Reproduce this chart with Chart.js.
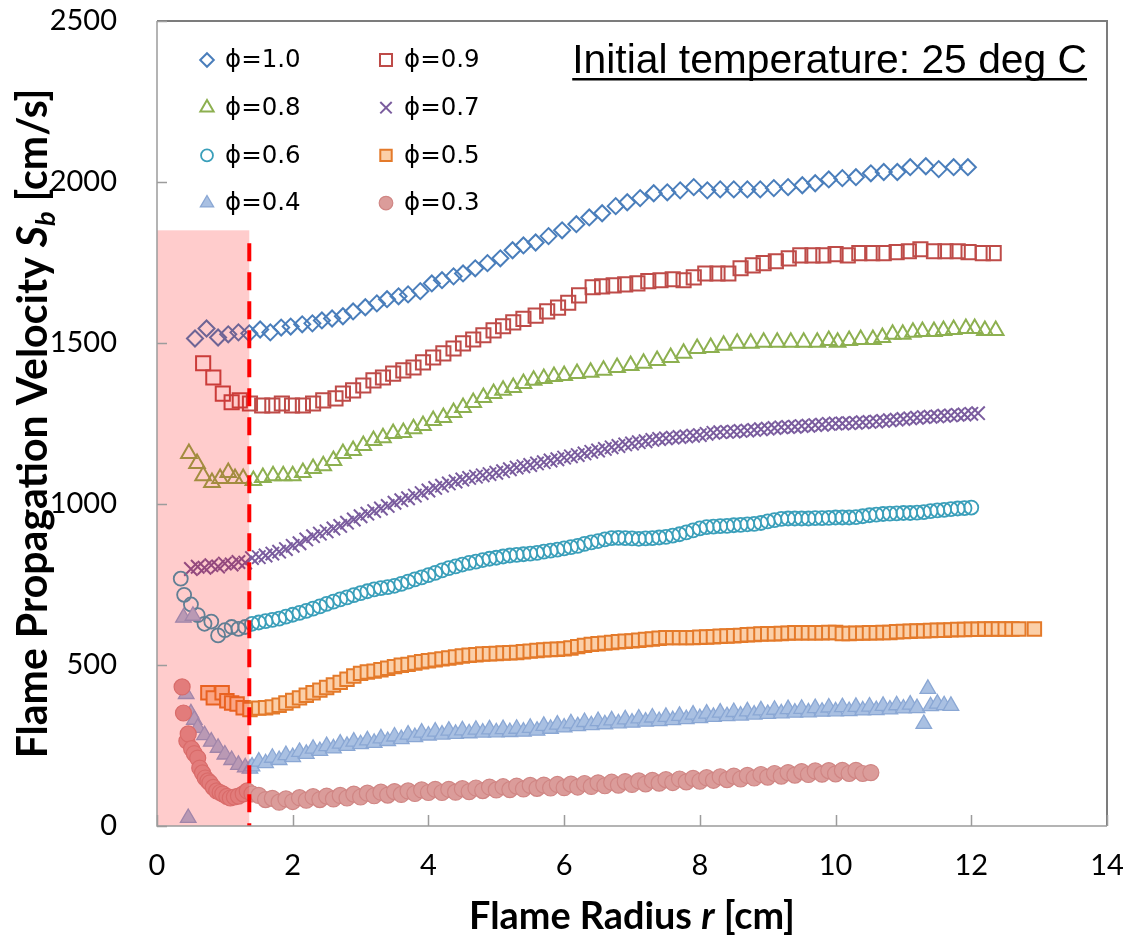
<!DOCTYPE html>
<html>
<head>
<meta charset="utf-8">
<script src="https://cdn.jsdelivr.net/npm/chart.js@4.4.1/dist/chart.umd.min.js"></script>
<style>
  html, body { margin: 0; padding: 0; background: #fff; }
  #wrap { width: 1124px; height: 936px; }
</style>
</head>
<body>
<div id="wrap"><canvas id="chart" width="1124" height="936"></canvas></div>
<script>
// ---- data: [flame radius r (cm), propagation velocity Sb (cm/s)] ----
const phiLabels = ['ϕ=1.0', 'ϕ=0.9', 'ϕ=0.8', 'ϕ=0.7', 'ϕ=0.6', 'ϕ=0.5', 'ϕ=0.4', 'ϕ=0.3'];

const phi10 = [[0.56,1514],[0.73,1545],[0.90,1517],[1.05,1527],[1.20,1533],[1.36,1530],[1.52,1542],[1.67,1533],[1.83,1548],[1.97,1551],[2.14,1558],[2.29,1561],[2.43,1570],[2.58,1576],[2.74,1583],[2.89,1598],[3.07,1611],[3.24,1623],[3.39,1636],[3.56,1645],[3.70,1651],[3.88,1661],[4.05,1685],[4.20,1695],[4.37,1707],[4.51,1716],[4.69,1732],[4.87,1748],[5.06,1763],[5.24,1788],[5.40,1803],[5.58,1812],[5.77,1832],[5.97,1850],[6.18,1869],[6.37,1890],[6.56,1903],[6.76,1925],[6.93,1937],[7.12,1950],[7.32,1965],[7.52,1968],[7.71,1974],[7.91,1984],[8.11,1974],[8.30,1977],[8.50,1977],[8.70,1977],[8.89,1977],[9.09,1981],[9.30,1984],[9.51,1990],[9.70,1996],[9.90,2008],[10.10,2012],[10.30,2015],[10.52,2027],[10.71,2031],[10.91,2031],[11.10,2046],[11.33,2049],[11.52,2040],[11.74,2046],[11.95,2046]];

const phi09 = [[0.68,1437],[0.83,1393],[0.97,1343],[1.10,1316],[1.22,1322],[1.37,1312],[1.55,1306],[1.70,1306],[1.84,1312],[1.99,1306],[2.15,1306],[2.30,1312],[2.45,1322],[2.63,1328],[2.74,1343],[2.89,1353],[3.04,1368],[3.19,1384],[3.33,1393],[3.48,1405],[3.63,1415],[3.78,1424],[3.92,1440],[4.07,1455],[4.22,1468],[4.37,1483],[4.51,1499],[4.66,1511],[4.81,1524],[4.96,1539],[5.10,1552],[5.25,1564],[5.40,1575],[5.58,1585],[5.75,1598],[5.91,1610],[6.06,1625],[6.22,1648],[6.42,1673],[6.56,1676],[6.73,1679],[6.90,1682],[7.08,1685],[7.24,1692],[7.42,1695],[7.60,1698],[7.76,1695],[7.91,1704],[8.08,1716],[8.26,1716],[8.42,1716],[8.60,1732],[8.78,1741],[8.94,1748],[9.12,1754],[9.31,1763],[9.48,1772],[9.66,1772],[9.82,1772],[10.00,1776],[10.18,1772],[10.35,1779],[10.54,1779],[10.71,1779],[10.90,1782],[11.08,1785],[11.25,1791],[11.45,1785],[11.62,1785],[11.80,1785],[11.96,1782],[12.17,1779],[12.33,1779]];

const phi08 = [[0.47,1157],[0.59,1126],[0.68,1088],[0.81,1067],[0.93,1079],[1.05,1098],[1.15,1079],[1.27,1079],[1.42,1073],[1.56,1082],[1.71,1088],[1.86,1088],[2.00,1088],[2.15,1098],[2.30,1110],[2.45,1119],[2.60,1135],[2.74,1157],[2.89,1166],[3.04,1182],[3.19,1197],[3.33,1206],[3.48,1219],[3.63,1222],[3.78,1234],[3.92,1244],[4.07,1259],[4.22,1269],[4.37,1284],[4.51,1300],[4.66,1315],[4.81,1331],[4.96,1343],[5.10,1353],[5.25,1362],[5.40,1374],[5.55,1384],[5.70,1390],[5.85,1396],[6.00,1399],[6.19,1405],[6.39,1409],[6.58,1415],[6.78,1424],[6.98,1430],[7.17,1437],[7.37,1446],[7.57,1455],[7.76,1468],[7.96,1483],[8.16,1486],[8.35,1493],[8.55,1499],[8.75,1499],[8.94,1502],[9.14,1502],[9.34,1502],[9.53,1502],[9.73,1502],[9.90,1508],[10.03,1502],[10.20,1508],[10.37,1511],[10.55,1511],[10.69,1517],[10.84,1527],[10.99,1527],[11.14,1533],[11.28,1536],[11.45,1536],[11.59,1539],[11.74,1542],[11.92,1545],[12.05,1545],[12.20,1539],[12.36,1539]];

const phi07 = [[0.5,798],[0.6,805],[0.7,802],[0.8,810],[0.9,806],[1.0,815],[1.1,812],[1.2,820],[1.3,818],[1.4,832],[1.5,835],[1.6,840],[1.7,846],[1.8,852],[1.9,860],[2.0,870],[2.1,878],[2.2,890],[2.3,900],[2.4,908],[2.5,915],[2.6,924],[2.7,932],[2.8,942],[2.9,952],[3.0,962],[3.1,970],[3.2,978],[3.3,986],[3.4,994],[3.5,1004],[3.6,1012],[3.7,1018],[3.8,1026],[3.9,1034],[4.0,1042],[4.1,1050],[4.2,1057],[4.3,1064],[4.4,1070],[4.5,1076],[4.6,1081],[4.7,1085],[4.8,1089],[4.9,1093],[5.0,1097],[5.1,1102],[5.2,1108],[5.3,1113],[5.4,1117],[5.5,1121],[5.6,1126],[5.7,1130],[5.8,1135],[5.9,1139],[6.0,1144],[6.1,1148],[6.2,1152],[6.3,1157],[6.4,1162],[6.5,1166],[6.6,1171],[6.7,1176],[6.8,1180],[6.9,1185],[7.0,1188],[7.1,1192],[7.2,1195],[7.3,1199],[7.4,1202],[7.5,1204],[7.6,1206],[7.7,1208],[7.8,1210],[7.9,1212],[8.0,1214],[8.1,1218],[8.2,1221],[8.3,1223],[8.4,1224],[8.5,1225],[8.6,1227],[8.7,1228],[8.8,1230],[8.9,1232],[9.0,1234],[9.1,1236],[9.2,1238],[9.3,1239],[9.4,1240],[9.5,1242],[9.6,1243],[9.7,1245],[9.8,1246],[9.9,1249],[10.0,1250],[10.1,1250],[10.2,1251],[10.3,1252],[10.4,1254],[10.5,1255],[10.6,1256],[10.7,1258],[10.8,1260],[10.9,1262],[11.0,1264],[11.1,1266],[11.2,1268],[11.3,1270],[11.4,1271],[11.5,1272],[11.6,1274],[11.7,1275],[11.8,1277],[11.9,1278],[12.0,1280],[12.1,1282]];

const phi06 = [[0.35,768],[0.4,718],[0.5,688],[0.6,655],[0.7,628],[0.8,635],[0.9,592],[1.0,608],[1.1,618],[1.2,612],[1.3,618],[1.4,628],[1.5,632],[1.6,636],[1.7,640],[1.8,644],[1.9,650],[2.0,656],[2.1,662],[2.2,668],[2.3,675],[2.4,682],[2.5,690],[2.6,697],[2.7,704],[2.8,710],[2.9,717],[3.0,723],[3.1,729],[3.2,735],[3.3,739],[3.4,742],[3.5,746],[3.6,752],[3.7,759],[3.8,766],[3.9,772],[4.0,779],[4.1,786],[4.2,794],[4.3,801],[4.4,806],[4.5,812],[4.6,817],[4.7,821],[4.8,826],[4.9,830],[5.0,833],[5.1,837],[5.2,840],[5.3,842],[5.4,844],[5.5,846],[5.6,848],[5.7,852],[5.8,855],[5.9,858],[6.0,862],[6.1,866],[6.2,870],[6.3,876],[6.4,881],[6.5,885],[6.6,890],[6.7,894],[6.8,895],[6.9,894],[7.0,893],[7.1,892],[7.2,893],[7.3,894],[7.4,896],[7.5,898],[7.6,902],[7.7,906],[7.8,912],[7.9,918],[8.0,924],[8.1,928],[8.2,930],[8.3,931],[8.4,932],[8.5,934],[8.6,935],[8.7,937],[8.8,938],[8.9,941],[9.0,946],[9.1,950],[9.2,954],[9.3,955],[9.4,955],[9.5,955],[9.6,955],[9.7,956],[9.8,956],[9.9,957],[10.0,958],[10.1,958],[10.2,958],[10.3,959],[10.4,962],[10.5,965],[10.6,967],[10.7,969],[10.8,970],[10.9,971],[11.0,972],[11.1,972],[11.2,973],[11.3,975],[11.4,978],[11.5,980],[11.6,982],[11.7,984],[11.8,986],[11.9,987],[12.0,989]];

const phi05 = [[0.75,414],[0.83,398],[0.96,414],[1.03,389],[1.10,382],[1.18,379],[1.27,367],[1.37,362],[1.5,366],[1.6,367],[1.7,370],[1.8,375],[1.9,382],[2.0,390],[2.1,398],[2.2,406],[2.3,414],[2.4,422],[2.5,430],[2.6,438],[2.7,446],[2.8,456],[2.9,466],[3.0,474],[3.1,478],[3.2,481],[3.3,485],[3.4,490],[3.5,495],[3.6,499],[3.7,502],[3.8,506],[3.9,510],[4.0,513],[4.1,516],[4.2,519],[4.3,522],[4.4,525],[4.5,528],[4.6,530],[4.7,532],[4.8,534],[4.9,535],[5.0,536],[5.1,537],[5.2,538],[5.3,539],[5.4,541],[5.5,543],[5.6,545],[5.7,547],[5.8,548],[5.9,549],[6.0,550],[6.1,553],[6.2,557],[6.3,561],[6.4,564],[6.5,566],[6.6,568],[6.7,570],[6.8,572],[6.9,574],[7.0,575],[7.1,577],[7.2,579],[7.3,581],[7.4,583],[7.5,585],[7.6,585],[7.7,585],[7.8,585],[7.9,585],[8.0,586],[8.1,587],[8.2,588],[8.3,589],[8.4,590],[8.5,591],[8.6,592],[8.7,594],[8.8,595],[8.9,596],[9.0,597],[9.1,597],[9.2,598],[9.3,599],[9.4,600],[9.5,600],[9.6,600],[9.7,600],[9.8,600],[9.9,601],[10.0,601],[10.1,598],[10.2,598],[10.3,599],[10.4,599],[10.5,600],[10.6,600],[10.7,601],[10.8,601],[10.9,603],[11.0,604],[11.1,605],[11.2,606],[11.3,606],[11.4,607],[11.5,608],[11.6,608],[11.7,609],[11.8,610],[11.9,610],[12.0,611],[12.1,611],[12.2,612],[12.3,612],[12.4,612],[12.5,612],[12.6,612],[12.7,612],[12.93,612]];

const phi04 = [[0.39,647],[0.53,653],[0.43,410],[0.46,25],[0.5,350],[0.55,330],[0.6,305],[0.7,282],[0.8,262],[0.9,243],[1.0,222],[1.1,205],[1.2,190],[1.3,182],[1.37,178],[1.4,185],[1.5,200],[1.6,195],[1.7,212],[1.8,205],[1.9,220],[2.0,214],[2.1,230],[2.2,224],[2.3,240],[2.4,233],[2.5,248],[2.6,241],[2.7,256],[2.8,249],[2.9,262],[3.0,254],[3.1,266],[3.2,258],[3.3,272],[3.4,264],[3.5,278],[3.6,270],[3.7,284],[3.8,276],[3.9,290],[4.0,281],[4.1,293],[4.2,284],[4.3,296],[4.4,286],[4.5,297],[4.6,288],[4.7,299],[4.8,290],[4.9,300],[5.0,291],[5.1,301],[5.2,292],[5.3,302],[5.4,293],[5.5,305],[5.6,296],[5.7,311],[5.8,302],[5.9,315],[6.0,306],[6.1,319],[6.2,310],[6.3,323],[6.4,313],[6.5,326],[6.6,316],[6.7,328],[6.8,319],[6.9,331],[7.0,321],[7.1,334],[7.2,324],[7.3,337],[7.4,326],[7.5,339],[7.6,329],[7.7,342],[7.8,332],[7.9,346],[8.0,335],[8.1,349],[8.2,339],[8.3,352],[8.4,341],[8.5,354],[8.6,343],[8.7,356],[8.8,346],[8.9,359],[9.0,348],[9.1,361],[9.2,350],[9.3,363],[9.4,352],[9.5,364],[9.6,353],[9.7,366],[9.8,355],[9.9,368],[10.0,356],[10.1,369],[10.2,357],[10.3,370],[10.4,359],[10.5,371],[10.6,360],[10.7,373],[10.8,362],[10.9,375],[11.0,365],[11.1,377],[11.2,366],[11.3,317],[11.36,426],[11.4,372],[11.5,380],[11.6,375],[11.7,373]];

const phi03 = [[0.37,432],[0.39,351],[0.44,264],[0.46,286],[0.51,240],[0.55,225],[0.60,211],[0.63,180],[0.67,165],[0.71,149],[0.75,140],[0.78,134],[0.83,120],[0.88,109],[0.93,104],[0.97,100],[1.03,92],[1.08,87],[1.14,90],[1.20,93],[1.27,100],[1.33,109],[1.4,100],[1.5,95],[1.6,82],[1.7,86],[1.8,74],[1.9,84],[2.0,76],[2.1,88],[2.2,80],[2.3,91],[2.4,82],[2.5,93],[2.6,84],[2.7,95],[2.8,87],[2.9,99],[3.0,90],[3.1,102],[3.2,94],[3.3,105],[3.4,96],[3.5,107],[3.6,98],[3.7,109],[3.8,101],[3.9,112],[4.0,104],[4.1,114],[4.2,104],[4.3,114],[4.4,105],[4.5,116],[4.6,107],[4.7,118],[4.8,110],[4.9,121],[5.0,112],[5.1,122],[5.2,113],[5.3,124],[5.4,115],[5.5,126],[5.6,117],[5.7,127],[5.8,118],[5.9,129],[6.0,119],[6.1,130],[6.2,121],[6.3,132],[6.4,123],[6.5,134],[6.6,125],[6.7,136],[6.8,127],[6.9,138],[7.0,129],[7.1,140],[7.2,131],[7.3,142],[7.4,133],[7.5,144],[7.6,135],[7.7,146],[7.8,137],[7.9,148],[8.0,139],[8.1,150],[8.2,142],[8.3,153],[8.4,144],[8.5,155],[8.6,146],[8.7,157],[8.8,149],[8.9,160],[9.0,152],[9.1,163],[9.2,155],[9.3,166],[9.4,158],[9.5,169],[9.6,160],[9.7,171],[9.8,161],[9.9,172],[10.0,162],[10.1,173],[10.2,163],[10.3,173],[10.4,163],[10.52,166]];

const seriesData = [phi10, phi09, phi08, phi07, phi06, phi05, phi04, phi03];

// region near the ignition where the data are affected by the spark
const shadeRadius = 1.36;
const shadeTop = 1850;
const dashTop = 1810;

// ---- marker styles ----
const markerStyles = [
  { pointStyle: 'rectRot',  radius: 8,   borderColor: '#4a7ebb', backgroundColor: 'rgba(0,0,0,0)', borderWidth: 2 },
  { pointStyle: 'rect',     radius: 10,  borderColor: '#be4b48', backgroundColor: 'rgba(0,0,0,0)', borderWidth: 2 },
  { pointStyle: 'triangle', radius: 9,   borderColor: '#8db050', backgroundColor: 'rgba(0,0,0,0)', borderWidth: 2 },
  { pointStyle: 'crossRot', radius: 9.5, borderColor: '#7a5c9e', backgroundColor: 'rgba(0,0,0,0)', borderWidth: 2 },
  { pointStyle: 'circle',   radius: 7,   borderColor: '#3a9fba', backgroundColor: 'rgba(0,0,0,0)', borderWidth: 1.8 },
  { pointStyle: 'rect',     radius: 9.5, borderColor: '#e47a2a', backgroundColor: '#fbcfa8', borderWidth: 2 },
  { pointStyle: 'triangle', radius: 9,   borderColor: '#8aa7d4', backgroundColor: '#a9c0e2', borderWidth: 1.3 },
  { pointStyle: 'circle',   radius: 8,   borderColor: '#d08684', backgroundColor: '#db9c9a', borderWidth: 1.2 }
];

const datasets = seriesData.map((pts, i) => ({
  label: phiLabels[i],
  data: pts.map(p => ({ x: p[0], y: p[1] })),
  showLine: false,
  pointStyle: markerStyles[i].pointStyle,
  pointRadius: markerStyles[i].radius,
  pointBorderColor: markerStyles[i].borderColor,
  pointBackgroundColor: markerStyles[i].backgroundColor,
  pointBorderWidth: markerStyles[i].borderWidth,
  borderColor: markerStyles[i].borderColor,
  backgroundColor: markerStyles[i].backgroundColor,
  order: 7 - i
}));

// draw runs of text with mixed fonts
function richWidth(ctx, parts) {
  let w = 0;
  parts.forEach(p => { ctx.font = p.font; w += ctx.measureText(p.t).width; });
  return w;
}
function drawRich(ctx, parts, x, y) {
  let cx = x;
  parts.forEach(p => {
    ctx.font = p.font;
    ctx.fillText(p.t, cx, y + (p.dy || 0));
    cx += ctx.measureText(p.t).width;
  });
}
function fitSize(ctx, build, target) {
  const w = richWidth(ctx, build(100));
  return 100 * target / w;
}

const yTitle = s => [
  { t: 'Flame Propagation Velocity ', font: `bold ${s}px Lato` },
  { t: 'S', font: `italic bold ${s}px Lato` },
  { t: 'b', font: `italic bold ${s * 0.66}px Lato`, dy: s * 0.2 },
  { t: ' [cm/s]', font: `bold ${s}px Lato` }
];
const xTitle = s => [
  { t: 'Flame Radius ', font: `bold ${s}px Lato` },
  { t: 'r', font: `italic bold ${s}px Lato` },
  { t: ' [cm]', font: `bold ${s}px Lato` }
];
const noteTitle = s => [{ t: 'Initial temperature: 25 deg C', font: `${s}px "Liberation Sans", Arial, sans-serif` }];

const decor = {
  id: 'decor',
  beforeDraw(chart) {
    const ctx = chart.ctx;
    ctx.save();
    ctx.fillStyle = '#fff';
    ctx.fillRect(0, 0, chart.width, chart.height);
    ctx.restore();
  },
  afterDatasetsDraw(chart) {
    const { ctx, scales: { x, y } } = chart;
    ctx.save();
    // translucent shade over ignition-affected region
    const x0 = x.getPixelForValue(0), x1 = x.getPixelForValue(shadeRadius);
    const yb = y.getPixelForValue(0), yt = y.getPixelForValue(shadeTop);
    ctx.fillStyle = 'rgba(255,0,0,0.2)';
    ctx.fillRect(x0, yt, x1 - x0, yb - yt);
    // dashed boundary
    ctx.strokeStyle = '#ff0000';
    ctx.lineWidth = 4;
    ctx.setLineDash([18, 11]);
    ctx.beginPath();
    ctx.moveTo(x1, y.getPixelForValue(dashTop));
    ctx.lineTo(x1, yb);
    ctx.stroke();
    ctx.restore();
  },
  afterDraw(chart) {
    const { ctx, chartArea: a, scales: { x, y } } = chart;
    ctx.save();
    // plot frame
    ctx.strokeStyle = '#7c7c7c';
    ctx.lineWidth = 2;
    ctx.beginPath();
    ctx.moveTo(a.left, a.top); ctx.lineTo(a.right, a.top); ctx.lineTo(a.right, a.bottom);
    ctx.stroke();
    ctx.strokeStyle = '#9c9c9c';
    ctx.lineWidth = 1.5;
    ctx.beginPath();
    ctx.moveTo(a.left, a.top); ctx.lineTo(a.left, a.bottom); ctx.lineTo(a.right, a.bottom);
    ctx.stroke();
    // inside tick marks
    ctx.beginPath();
    y.ticks.forEach(t => {
      const py = Math.round(y.getPixelForValue(t.value)) + 0.5;
      ctx.moveTo(a.left, py); ctx.lineTo(a.left + 10, py);
    });
    x.ticks.forEach(t => {
      const px = Math.round(x.getPixelForValue(t.value)) + 0.5;
      ctx.moveTo(px, a.bottom); ctx.lineTo(px, a.bottom - 11);
    });
    ctx.stroke();

    // legend, two columns
    const helpers = Chart.helpers;
    ctx.textBaseline = 'middle';
    ctx.textAlign = 'left';
    phiLabels.forEach((lab, i) => {
      const col = i % 2, row = Math.floor(i / 2);
      const mx = a.left + 50 + col * 179;
      const my = a.top + 39 + row * 47.7;
      const st = markerStyles[i];
      ctx.save();
      ctx.strokeStyle = st.borderColor;
      ctx.fillStyle = st.backgroundColor;
      ctx.lineWidth = st.borderWidth;
      helpers.drawPoint(ctx, { pointStyle: st.pointStyle, radius: st.radius * 0.85, borderWidth: st.borderWidth, rotation: 0 }, mx, my);
      ctx.restore();
      ctx.fillStyle = '#000';
      ctx.font = '24.5px "DejaVu Sans"';
      ctx.fillText(lab, mx + 18, my + 1);
    });

    // underlined note
    ctx.textBaseline = 'alphabetic';
    ctx.fillStyle = '#000';
    const ns = fitSize(ctx, noteTitle, 515);
    const nParts = noteTitle(ns);
    const nw = richWidth(ctx, nParts);
    const nx = a.right - 20 - nw;
    drawRich(ctx, nParts, nx, 73);
    ctx.fillRect(nx, 78, nw, 2.5);

    // axis titles
    const xs = fitSize(ctx, xTitle, 326);
    const xp = xTitle(xs);
    drawRich(ctx, xp, (a.left + a.right) / 2 - richWidth(ctx, xp) / 2, 929);

    const ys = fitSize(ctx, yTitle, 670);
    const yp = yTitle(ys);
    ctx.translate(47, (a.top + a.bottom) / 2);
    ctx.rotate(-Math.PI / 2);
    drawRich(ctx, yp, -richWidth(ctx, yp) / 2, 0);
    ctx.restore();
  }
};

new Chart(document.getElementById('chart'), {
  type: 'scatter',
  data: { datasets },
  options: {
    responsive: false,
    animation: false,
    layout: { padding: { top: 21, right: 17, left: 0, bottom: 0 } },
    plugins: { legend: { display: false }, tooltip: { enabled: false } },
    scales: {
      x: {
        type: 'linear', min: 0, max: 14,
        ticks: { stepSize: 2, color: '#000', font: { family: 'Lato', size: 29 }, padding: 14, callback: v => String(v) },
        grid: { display: false },
        border: { display: false },
        afterFit(s) { s.height = 110; s.paddingLeft = 0; s.paddingRight = 0; }
      },
      y: {
        type: 'linear', min: 0, max: 2500,
        ticks: { stepSize: 500, color: '#000', font: { family: 'Lato', size: 29 }, padding: 32, callback: v => String(v) },
        grid: { display: false },
        border: { display: false },
        afterFit(s) { s.width = 157; s.paddingTop = 0; s.paddingBottom = 0; }
      }
    }
  },
  plugins: [decor]
});
</script>
</body>
</html>
